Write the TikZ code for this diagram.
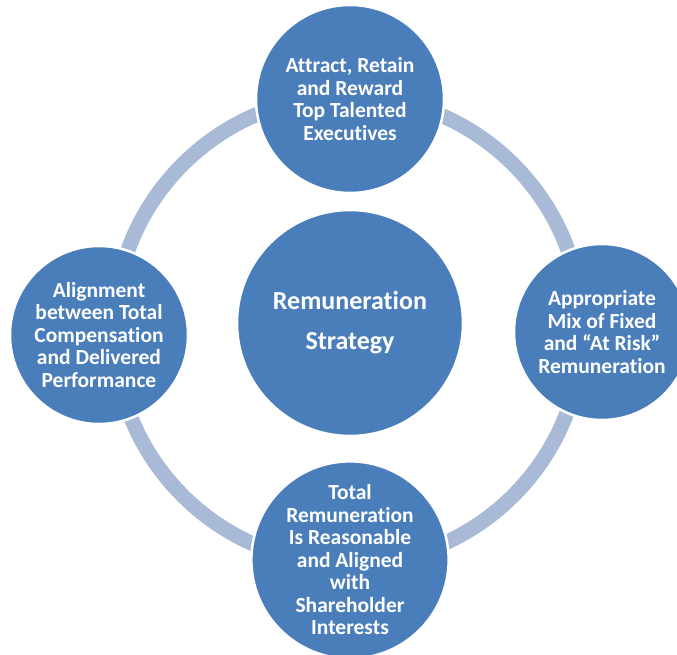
\documentclass[tikz,border=0pt]{standalone}
\usepackage{fontspec}
\setmainfont{Carlito}[Ligatures=TeX, RawFeature={-liga;-clig;-calt;-dlig}]
\usepackage{tikz}
\usetikzlibrary{positioning}

\definecolor{discblue}{RGB}{74,126,187}
\definecolor{ringblue}{RGB}{168,186,214}

\begin{document}
\begin{tikzpicture}[x=1pt, y=1pt,
	disc/.style={circle, fill=discblue, draw=white, line width=2.5pt, text=white,
		font=\fontsize{21.5}{22.5}\selectfont\bfseries, align=center, inner sep=0pt},
	hub/.style={disc, font=\fontsize{26}{40}\selectfont\bfseries}]
	\useasboundingbox (0,0) rectangle (677,654);
	\clip (0,0) rectangle (677,654);

	% Ring
	\coordinate (ringc) at (348,324);
	\draw [ringblue, line width=15pt] (ringc) circle (234);

	% Nodes {strategy, attract, mix, total, align}
	\node [hub, minimum size=226]	(strategy)	at (350,331)	{Remuneration\\Strategy};
	\node [disc, minimum size=188]	(attract)	at (350,555)	{Attract, Retain\\and Reward\\Top Talented\\Executives};
	\node [disc, minimum size=176]	(mix)		at (602,322)	{Appropriate\\Mix of Fixed\\and ``At Risk''\\Remuneration};
	\node [disc, minimum size=190]	(total)		at (350,94)		{Total\\Remuneration\\Is Reasonable\\and Aligned\\with\\Shareholder\\Interests};
	\node [disc, minimum size=178]	(align)		at (99,319)		{Alignment\\between Total\\Compensation\\and Delivered\\Performance};

\end{tikzpicture}
\end{document}
